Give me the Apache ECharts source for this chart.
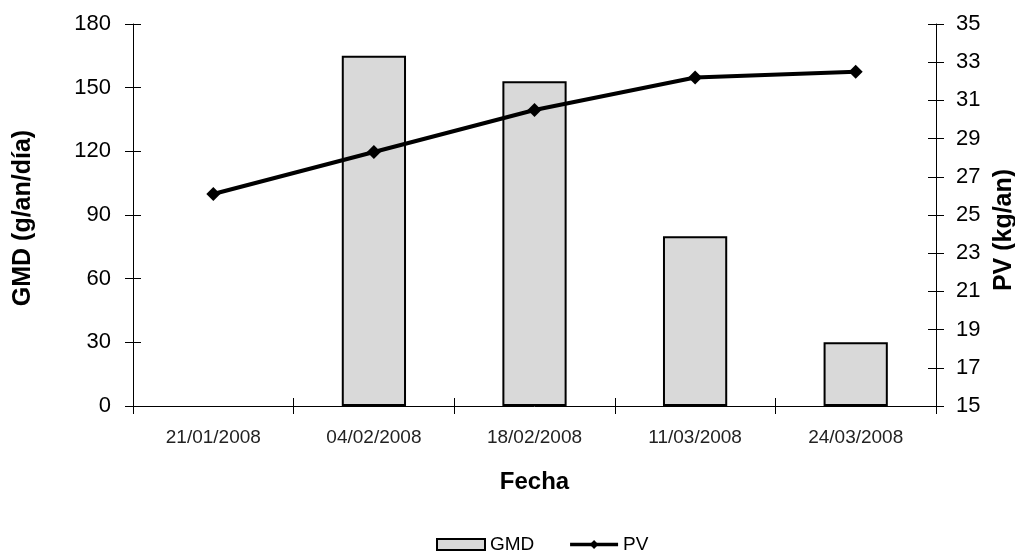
<!DOCTYPE html>
<html>
<head>
<meta charset="utf-8">
<script src="https://cdn.jsdelivr.net/npm/echarts@6/dist/echarts.min.js"></script>
<style>html,body{margin:0;padding:0;background:#fff}#c{width:1015px;height:553px}</style>
</head>
<body>
<div id="c"></div>
<script>
const categories = ['21/01/2008', '04/02/2008', '18/02/2008', '11/03/2008', '24/03/2008'];
const gmdValues = [null, 165, 153, 80, 30];
const pvValues = [26.1, 28.3, 30.5, 32.2, 32.5];

const FONT = '"Liberation Sans", Arial, sans-serif';
const chart = echarts.init(document.getElementById('c'), null, {renderer: 'canvas'});
const tickIn = {show: true, inside: true, length: 8, lineStyle: {color: '#000', width: 1}};
const tickOut = {show: true, inside: false, length: 8, lineStyle: {color: '#000', width: 1}};
chart.setOption({
  animation: false,
  backgroundColor: '#fff',
  textStyle: {fontFamily: FONT},
  grid: {left: 133, right: 79, top: 24, bottom: 147, containLabel: false, outerBoundsMode: 'none'},
  legend: {
    top: 530, left: 431,
    itemGap: 34,
    textStyle: {fontFamily: FONT, fontSize: 19, color: '#000'},
    data: [
      {name: 'GMD', icon: 'rect', itemStyle: {color: '#d9d9d9', borderColor: '#000', borderWidth: 2}},
      {name: 'PV', itemStyle: {color: '#000'}, lineStyle: {color: '#000', width: 3.5}}
    ],
    itemWidth: 48, itemHeight: 11
  },
  xAxis: [{
    type: 'category', data: categories, position: 'bottom',
    axisLine: {show: true, lineStyle: {color: '#000', width: 1}},
    axisTick: tickOut,
    axisLabel: {fontFamily: FONT, fontSize: 19, color: '#222', margin: 22},
    name: 'Fecha', nameLocation: 'middle', nameGap: 64,
    nameTextStyle: {fontFamily: FONT, fontSize: 24, fontWeight: 'bold', color: '#000'}
  }, {
    type: 'category', data: categories, position: 'bottom',
    axisLine: {show: false}, axisTick: tickIn, axisLabel: {show: false}
  }],
  yAxis: [{
    type: 'value', position: 'left', min: 0, max: 180, interval: 30,
    axisLine: {show: true, lineStyle: {color: '#000', width: 1}},
    axisTick: tickOut, splitLine: {show: false},
    axisLabel: {fontFamily: FONT, fontSize: 22, color: '#000', margin: 22},
    name: 'GMD (g/an/día)', nameLocation: 'middle', nameRotate: 90, nameGap: 97,
    nameTextStyle: {fontFamily: FONT, fontSize: 25, fontWeight: 'bold', color: '#000', padding: [0, 6, 0, 0]}
  }, {
    type: 'value', position: 'right', min: 15, max: 35, interval: 2,
    axisLine: {show: true, lineStyle: {color: '#000', width: 1}},
    axisTick: tickOut, splitLine: {show: false},
    axisLabel: {fontFamily: FONT, fontSize: 22, color: '#000', margin: 20},
    name: 'PV (kg/an)', nameLocation: 'middle', nameRotate: 90, nameGap: 55,
    nameTextStyle: {fontFamily: FONT, fontSize: 25, fontWeight: 'bold', color: '#000', verticalAlign: 'top', padding: [0, 30, 0, 0]}
  }, {
    type: 'value', position: 'left', min: 0, max: 180, interval: 30,
    axisLine: {show: false}, axisTick: tickIn, axisLabel: {show: false}, splitLine: {show: false}
  }, {
    type: 'value', position: 'right', min: 15, max: 35, interval: 2,
    axisLine: {show: false}, axisTick: tickIn, axisLabel: {show: false}, splitLine: {show: false}
  }],
  series: [{
    name: 'GMD', type: 'bar', xAxisIndex: 0, yAxisIndex: 0,
    data: gmdValues, barWidth: '40%',
    itemStyle: {color: '#d9d9d9', borderColor: '#000', borderWidth: 2}
  }, {
    name: 'PV', type: 'line', xAxisIndex: 0, yAxisIndex: 1,
    data: pvValues, symbol: 'diamond', symbolSize: 14, showSymbol: true,
    lineStyle: {color: '#000', width: 4},
    itemStyle: {color: '#000'}
  }]
});
</script>
</body>
</html>
